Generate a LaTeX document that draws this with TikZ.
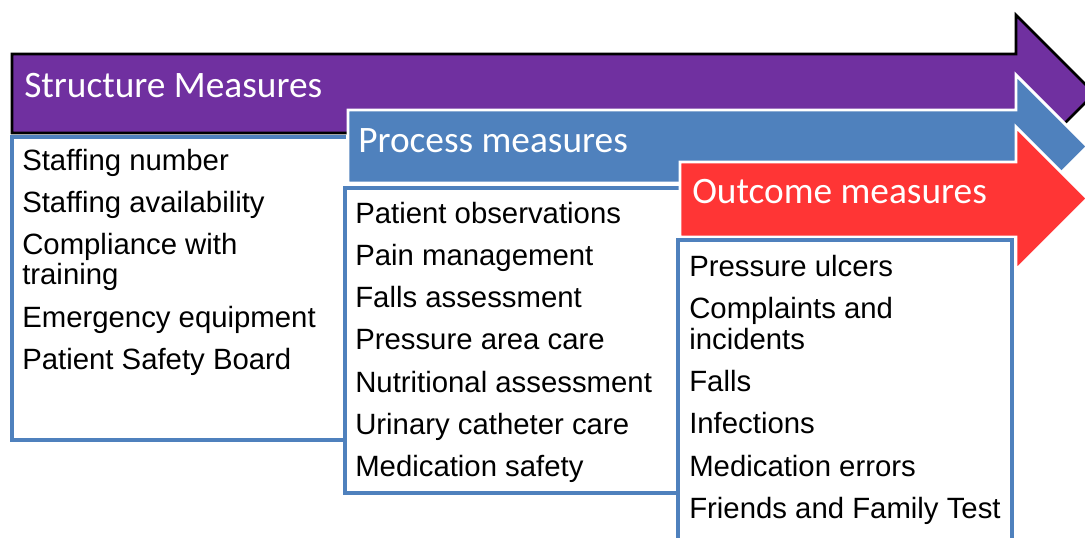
\documentclass[tikz,border=0pt]{standalone}
\usepackage{fontspec}
\setmainfont{Liberation Sans}
\newfontfamily\titlefont{Carlito}
\definecolor{purp}{HTML}{7030A0}
\definecolor{blu}{HTML}{4F81BD}
\definecolor{rd}{HTML}{FF3535}
\begin{document}
\begin{tikzpicture}[x=0.75pt,y=-0.75pt,
  arrowshape/.style={line join=miter},
  listbox/.style={draw=blu,line width=2.6pt,fill=white},
  titletext/.style={font=\titlefont\fontsize{28}{30}\selectfont,text=white,anchor=base west,inner sep=0pt},
  itemtext/.style={font=\fontsize{22}{24}\selectfont,text=black,anchor=base west,inner sep=0pt}]
\useasboundingbox (0,0) rectangle (1085,537);
\clip (0,0) rectangle (1085,537);
% purple arrow
\draw[arrowshape,fill=purp,draw=black,line width=1.9pt]
  (12,54) -- (1016,54) -- (1016,15) -- (1094.5,93.5) -- (1016,172) -- (1016,133) -- (12,133) -- cycle;
% structure box (right side hidden)
\draw[listbox] (346,137) -- (12,137) -- (12,440) -- (346,440);
% blue arrow
\draw[arrowshape,fill=blu,draw=white,line width=2.2pt]
  (348,110) -- (1016,110) -- (1016,75) -- (1087.5,146.5) -- (1016,218) -- (1016,183) -- (348,183) -- cycle;
% process box (right side hidden)
\draw[listbox] (680,188) -- (345,188) -- (345,493) -- (680,493);
% red arrow
\draw[arrowshape,fill=rd,draw=white,line width=2.2pt]
  (680,162) -- (1016,162) -- (1016,127) -- (1087.5,198.5) -- (1016,270) -- (1016,237) -- (680,237) -- cycle;
% outcome box
\draw[listbox] (678,240) rectangle (1012,560);
% titles
\node[titletext] (t1) at (24,97) {Structure Measures};
\node[titletext] (t2) at (358,152) {Process measures};
\node[titletext] (t3) at (692,203) {Outcome measures};
% structure items
\node[itemtext] (s1) at (22,170) {Staffing number};
\node[itemtext] (s2) at (22,212) {Staffing availability};
\node[itemtext] (s3) at (22,254) {Compliance with};
\node[itemtext] (s3b) at (22,284) {training};
\node[itemtext] (s4) at (22,327) {Emergency equipment};
\node[itemtext] (s5) at (22,369) {Patient Safety Board};
% process items
\node[itemtext] (p1) at (355,223) {Patient observations};
\node[itemtext] (p2) at (355,265) {Pain management};
\node[itemtext] (p3) at (355,307) {Falls assessment};
\node[itemtext] (p4) at (355,349) {Pressure area care};
\node[itemtext] (p5) at (355,392) {Nutritional assessment};
\node[itemtext] (p6) at (355,434) {Urinary catheter care};
\node[itemtext] (p7) at (355,476) {Medication safety};
% outcome items
\node[itemtext] (o1) at (689,276) {Pressure ulcers};
\node[itemtext] (o2) at (689,318) {Complaints and};
\node[itemtext] (o2b) at (689,349) {incidents};
\node[itemtext] (o3) at (689,391) {Falls};
\node[itemtext] (o4) at (689,433) {Infections};
\node[itemtext] (o5) at (689,476) {Medication errors};
\node[itemtext] (o6) at (689,518) {Friends and Family Test};
\end{tikzpicture}
\end{document}
